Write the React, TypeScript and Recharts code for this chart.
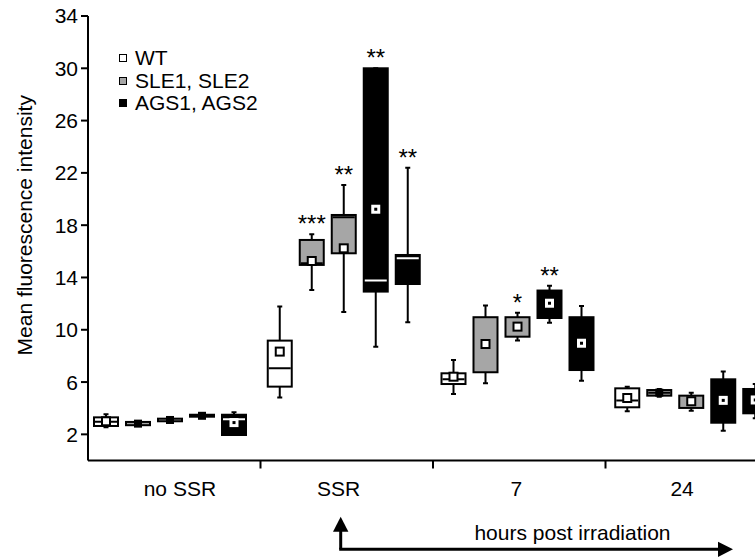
import React from 'react';
import { ComposedChart, Bar, XAxis, YAxis, Legend } from 'recharts';

const FONT = '"Liberation Sans", Arial, Helvetica, sans-serif';
const GRAY = '#a6a6a6';

const groups = ['no SSR', 'SSR', '7', '24'];
const seriesKeys = ['WT', 'SLE1', 'SLE2', 'AGS1', 'AGS2'];
const seriesFill = ['#ffffff', GRAY, GRAY, '#000000', '#000000'];

// per group: [min, q1, median, q3, max, mean]
const wtStats = [
  [2.54, 2.64, 2.97, 3.3, 3.53, 3.0],
  [4.81, 5.65, 7.05, 9.17, 11.77, 8.33],
  [5.09, 5.85, 6.21, 6.67, 7.69, 6.41],
  [3.76, 4.07, 4.58, 5.52, 5.65, 4.78],
];
const sle1Stats = [
  [2.65, 2.7, null, 2.95, 3.0, 2.82],
  [13.05, 14.96, 15.09, 16.87, 17.3, 15.26],
  [5.9, 6.75, null, 10.96, 11.85, 8.91],
  [4.88, 4.96, 5.19, 5.39, 5.47, 5.19],
];
const sle2Stats = [
  [2.95, 3.0, null, 3.2, 3.25, 3.1],
  [11.36, 15.85, 18.6, 18.78, 21.08, 16.23],
  [9.17, 9.47, null, 10.96, 11.31, 10.24],
  [3.81, 4.02, null, 4.96, 5.19, 4.53],
];
const ags1Stats = [
  [3.3, 3.35, null, 3.5, 3.6, 3.42],
  [8.71, 12.92, 13.76, 30.0, 30.0, 19.22],
  [10.54, 10.9, null, 13.0, 13.37, 12.03],
  [2.28, 2.89, null, 6.21, 6.8, 4.6],
];
const ags2Stats = [
  [1.95, 1.95, 3.15, 3.5, 3.69, 2.9],
  [10.57, 13.5, 15.47, 15.72, 22.4, null],
  [6.1, 6.92, null, 10.96, 11.82, 8.97],
  [3.23, 3.61, null, 5.47, 5.85, 4.63],
];

// significance marks per group
const wtStars = ['', '', '', ''];
const sle1Stars = ['', '***', '', ''];
const sle2Stars = ['', '**', '*', ''];
const ags1Stars = ['', '**', '**', ''];
const ags2Stars = ['', '**', '', ''];

const yTicks = [2, 6, 10, 14, 18, 22, 26, 30, 34];
const dividerTicks = [1, 2, 3];
const legendLabels = ['WT', 'SLE1, SLE2', 'AGS1, AGS2'];
const legendFills = ['#ffffff', GRAY, '#000000'];

const allStats = [wtStats, sle1Stats, sle2Stats, ags1Stats, ags2Stats];
const allStars = [wtStars, sle1Stars, sle2Stars, ags1Stars, ags2Stars];

const data = groups.map((g, gi) => {
  const row: any = { group: g, slot: gi + 0.5 };
  seriesKeys.forEach((k, si) => {
    row[k] = allStats[si][gi];
    row[k + '_star'] = allStars[si][gi];
  });
  return row;
});

const lowOf = (s: any[]) => Math.min(s[0], s[1]);
const highOf = (s: any[]) => Math.max(s[3], s[4]);

const BoxShape = (props: any) => {
  const { x, y, width, height, payload, si } = props;
  const key = seriesKeys[si];
  const s = payload[key];
  if (!s) return null;
  const [mn, q1, med, q3, mx, mean] = s;
  const lo = lowOf(s);
  const hi = highOf(s);
  const top = Math.min(y, y + height);
  const h = Math.abs(height);
  const k = h / (hi - lo);
  const yOf = (v: number) => top + (hi - v) * k;
  const cx = x + width / 2;
  const fill = seriesFill[si];
  const dark = fill === '#000000';
  const star = payload[key + '_star'];
  const capW = 5;
  const boxH = yOf(q1) - yOf(q3);
  const tiny = boxH < 6;
  return (
    <g>
      <line x1={cx} x2={cx} y1={yOf(mx)} y2={yOf(q3)} stroke="#000" strokeWidth={2} />
      <line x1={cx} x2={cx} y1={yOf(q1)} y2={yOf(mn)} stroke="#000" strokeWidth={2} />
      <line x1={cx - capW / 2} x2={cx + capW / 2} y1={yOf(mx)} y2={yOf(mx)} stroke="#000" strokeWidth={2} />
      <line x1={cx - capW / 2} x2={cx + capW / 2} y1={yOf(mn)} y2={yOf(mn)} stroke="#000" strokeWidth={2} />
      <rect x={x + 1} y={yOf(q3)} width={width - 2} height={Math.max(boxH, 0.5)} fill={fill} stroke="#000" strokeWidth={2} />
      {med != null && (
        <line x1={x + 2} x2={x + width - 2} y1={yOf(med)} y2={yOf(med)} stroke={dark ? '#fff' : '#000'} strokeWidth={2} />
      )}
      {mean != null && tiny && (
        <rect x={cx - 4} y={yOf(mean) - 4} width={8} height={8} fill="#000" />
      )}
      {mean != null && !tiny && !dark && (
        <rect x={cx - 4} y={yOf(mean) - 4} width={8} height={8} fill="#fff" stroke="#000" strokeWidth={2} />
      )}
      {mean != null && !tiny && dark && (
        <g>
          <rect x={cx - 4.5} y={yOf(mean) - 4.5} width={9} height={9} fill="#fff" />
          <rect x={cx - 1.5} y={yOf(mean) - 1.5} width={3} height={3} fill="#000" />
        </g>
      )}
      {star ? (
        <text x={cx} y={yOf(hi) - 2} textAnchor="middle" fontFamily={FONT} fontSize={24} fill="#000">
          {star}
        </text>
      ) : null}
    </g>
  );
};

const labelShift = [10, -5, -1, -9];
const CatTick = (props: any) => {
  const { x, y, payload, index } = props;
  return (
    <text x={x + (labelShift[index] || 0)} y={y} dy="0.71em" textAnchor="middle" fontFamily={FONT} fontSize={21} fill="#000">
      {payload.value}
    </text>
  );
};

const YLabel = (props: any) => {
  const vb = props.viewBox || { x: 0, y: 16, width: 88, height: 444.5 };
  const cx = vb.x + 24;
  const cy = vb.y + vb.height / 2 - 13;
  return (
    <text x={cx} y={cy} transform={`rotate(-90 ${cx} ${cy})`} textAnchor="middle" dominantBaseline="central" fontFamily={FONT} fontSize={21} fill="#000">
      Mean fluorescence intensity
    </text>
  );
};

const LegendBox = () => (
  <div style={{ fontFamily: FONT, fontSize: 21, color: '#000', lineHeight: '22.5px' }}>
    {legendLabels.map((l, i) => (
      <div key={l} style={{ display: 'flex', alignItems: 'center', height: 22.5, whiteSpace: 'nowrap' }}>
        <span style={{ display: 'inline-block', width: 8, height: 8, boxSizing: 'border-box', border: '1.5px solid #000', background: legendFills[i], marginRight: 8 }} />
        <span>{l}</span>
      </div>
    ))}
  </div>
);

export default function App() {
  return (
    <div style={{ position: 'absolute', left: 0, top: 0, width: 755, height: 557, overflow: 'hidden', background: '#fff' }}>
      <ComposedChart width={800} height={557} data={data} margin={{ top: 16, right: 22, bottom: 0, left: 0 }} barGap={6} barSize={26}>
        <XAxis
          xAxisId="b"
          dataKey="group"
          type="category"
          height={86.5}
          axisLine={false}
          tickLine={false}
          tickSize={0}
          tickMargin={10.5}
          tick={<CatTick />}
          padding={{ left: -5, right: 0 }}
          interval={0}
        />
        <XAxis
          xAxisId="a"
          dataKey="slot"
          type="number"
          domain={[0, groups.length]}
          ticks={dividerTicks}
          interval={0}
          height={10}
          tickSize={8}
          axisLine={{ stroke: '#000', strokeWidth: 2 }}
          tickLine={{ stroke: '#000', strokeWidth: 2 }}
          tickFormatter={() => ''}
          allowDataOverflow
        />
        <YAxis
          type="number"
          domain={[0, 34]}
          ticks={yTicks}
          interval={0}
          width={88}
          tickSize={7}
          tickMargin={3}
          axisLine={{ stroke: '#000', strokeWidth: 2 }}
          tickLine={{ stroke: '#000', strokeWidth: 2 }}
          tick={{ fill: '#000', fontSize: 21, fontFamily: FONT }}
          label={YLabel}
          allowDataOverflow
        />
        <Legend
          layout="vertical"
          align="center"
          verticalAlign="middle"
          wrapperStyle={{ left: 119, top: 47, width: 250 }}
          content={() => <LegendBox />}
        />
        {seriesKeys.map((k, si) => (
          <Bar
            key={k}
            name={k}
            xAxisId="b"
            dataKey={(row: any) => [lowOf(row[k]), highOf(row[k])]}
            fill={seriesFill[si]}
            isAnimationActive={false}
            shape={(p: any) => <BoxShape {...p} si={si} />}
          />
        ))}
      </ComposedChart>
      <svg width={755} height={557} style={{ position: 'absolute', left: 0, top: 0, pointerEvents: 'none' }}>
        <line x1={340.7} x2={340.7} y1={530} y2={549.3} stroke="#000" strokeWidth={3} />
        <polygon points="333,531.7 348.4,531.7 340.7,516.7" fill="#000" />
        <line x1={339.2} x2={720} y1={549.3} y2={549.3} stroke="#000" strokeWidth={3} />
        <polygon points="718,541.7 718,556.9 733,549.3" fill="#000" />
        <text x={572.5} y={540} textAnchor="middle" fontFamily={FONT} fontSize={21} fill="#000">
          hours post irradiation
        </text>
      </svg>
    </div>
  );
}
